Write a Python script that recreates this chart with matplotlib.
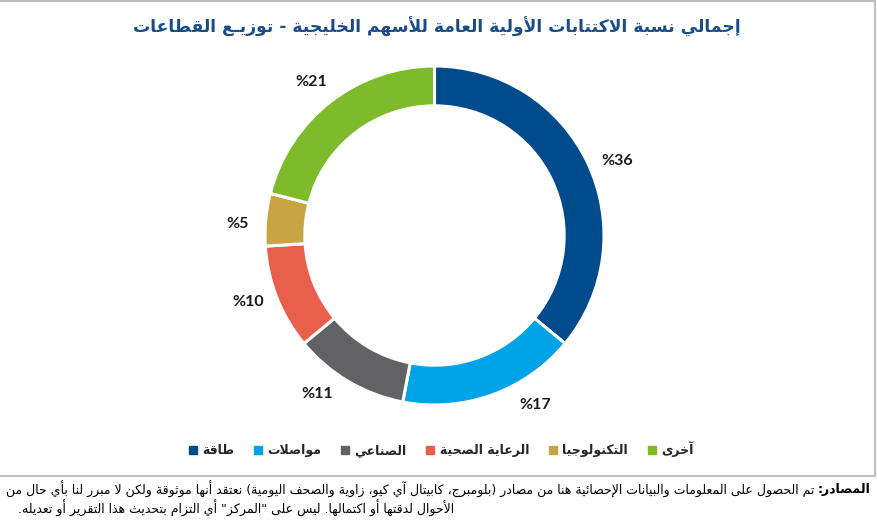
import matplotlib
matplotlib.use("Agg")
import matplotlib.pyplot as plt
from matplotlib.lines import Line2D
from matplotlib.patches import Rectangle
import numpy as np

# ---------------- data ----------------
title = "إجمالي نسبة الاكتتابات الأولية العامة للأسهم الخليجية - توزيـع القطاعات"
sectors = ["طاقة", "مواصلات", "الصناعي", "الرعاية الصحية", "التكنولوجيا", "آخرى"]
values = [36, 17, 11, 10, 5, 21]
colors = ["#004B8C", "#00A2E8", "#616166", "#E8604C", "#C9A443", "#7DBB2A"]
source_head = "المصادر:"
source_line1 = "تم الحصول على المعلومات والبيانات الإحصائية هنا من مصادر (بلومبرج، كابيتال آي كيو، زاوية والصحف اليومية) نعتقد أنها موثوقة ولكن لا مبرر لنا بأي حال من"
source_line2 = "الأحوال لدقتها أو اكتمالها. ليس على \"المركز\" أي التزام بتحديث هذا التقرير أو تعديله."

# label angle nudges (degrees) to mimic outside-end placement
label_nudge = [-3, 11, -6, -2, 2, 1]

# ---------------- minimal Arabic shaping (presentation forms) ----------------
_letters = [
    ('ء', 0xFE80, 'N'), ('آ', 0xFE81, 'R'), ('أ', 0xFE83, 'R'), ('ؤ', 0xFE85, 'R'),
    ('إ', 0xFE87, 'R'), ('ئ', 0xFE89, 'D'), ('ا', 0xFE8D, 'R'), ('ب', 0xFE8F, 'D'),
    ('ة', 0xFE93, 'R'), ('ت', 0xFE95, 'D'), ('ث', 0xFE99, 'D'), ('ج', 0xFE9D, 'D'),
    ('ح', 0xFEA1, 'D'), ('خ', 0xFEA5, 'D'), ('د', 0xFEA9, 'R'), ('ذ', 0xFEAB, 'R'),
    ('ر', 0xFEAD, 'R'), ('ز', 0xFEAF, 'R'), ('س', 0xFEB1, 'D'), ('ش', 0xFEB5, 'D'),
    ('ص', 0xFEB9, 'D'), ('ض', 0xFEBD, 'D'), ('ط', 0xFEC1, 'D'), ('ظ', 0xFEC5, 'D'),
    ('ع', 0xFEC9, 'D'), ('غ', 0xFECD, 'D'), ('ف', 0xFED1, 'D'), ('ق', 0xFED5, 'D'),
    ('ك', 0xFED9, 'D'), ('ل', 0xFEDD, 'D'), ('م', 0xFEE1, 'D'), ('ن', 0xFEE5, 'D'),
    ('ه', 0xFEE9, 'D'), ('و', 0xFEED, 'R'), ('ى', 0xFEEF, 'R'), ('ي', 0xFEF1, 'D'),
]
_forms = {}
_jtype = {}
for ch, base, t in _letters:
    _jtype[ch] = t
    if t == 'N':
        _forms[ch] = (base, base, base, base)
    elif t == 'R':
        _forms[ch] = (base, base + 1, base, base + 1)
    else:
        _forms[ch] = (base, base + 1, base + 2, base + 3)
_jtype['ـ'] = 'D'
_forms['ـ'] = (0x640,) * 4
_lamalef = {'آ': 0xFEF5, 'أ': 0xFEF7, 'إ': 0xFEF9, 'ا': 0xFEFB}
_mirror = {'(': ')', ')': '('}


def shape(s):
    toks = []
    i = 0
    while i < len(s):
        c = s[i]
        if c == 'ل' and i + 1 < len(s) and s[i + 1] in _lamalef:
            toks.append(('LA', s[i + 1], 'R'))
            i += 2
            continue
        toks.append((c, None, _jtype.get(c)))
        i += 1
    out = []
    for k, (c, extra, t) in enumerate(toks):
        if t is None:
            out.append(_mirror.get(c, c))
            continue
        prev_t = toks[k - 1][2] if k > 0 else None
        next_t = toks[k + 1][2] if k + 1 < len(toks) else None
        jp = prev_t == 'D' and t in ('D', 'R')
        jn = t == 'D' and next_t in ('D', 'R')
        if c == 'LA':
            code = _lamalef[extra] + (1 if jp else 0)
        else:
            f = _forms[c]
            if jp and jn:
                code = f[3]
            elif jp:
                code = f[1]
            elif jn:
                code = f[2]
            else:
                code = f[0]
        out.append(chr(code))
    return ''.join(reversed(out))


# ---------------- figure ----------------
W, H = 878, 523
fig = plt.figure(figsize=(W / 100, H / 100), dpi=100)
fig.patch.set_facecolor("white")

# frame
fig.patches.append(Rectangle((-5 / W, 1 - 476 / H), (875 + 5) / W, 476 / H - 1 / H,
                             transform=fig.transFigure, fill=False,
                             edgecolor="#BFBFBF", linewidth=1.5, zorder=0))

R_px = 169.5
cx, cy = 434.5, H - 235.5
lim = 1.3
side = 2 * lim * R_px
ax = fig.add_axes([(cx - side / 2) / W, (cy - side / 2) / H, side / W, side / H])

wedges, _ = ax.pie(values, colors=colors, startangle=90, counterclock=False,
                   wedgeprops=dict(width=0.235, edgecolor="white", linewidth=2.2))
ax.set_xlim(-lim, lim)
ax.set_ylim(-lim, lim)
ax.set_aspect("equal")
ax.axis("off")

for w, v, nud in zip(wedges, values, label_nudge):
    ang = np.deg2rad((w.theta1 + w.theta2) / 2 + nud)
    r = 1.165
    ax.text(r * np.cos(ang), r * np.sin(ang), "%" + str(v), ha="center", va="center",
            fontsize=11.5, fontweight="bold", family=["Lato", "DejaVu Sans"], color="#1a1a1a")

# title
fig.text(437 / W, 1 - 27 / H, shape(title), ha="center", va="center",
         fontsize=12.3, fontweight="bold", color="#1B4C86", family=["DejaVu Sans"])

# legend
handles = [Line2D([], [], marker="s", linestyle="none", markersize=6,
                  markerfacecolor=c, markeredgecolor=c) for c in colors]
fig.legend(handles, [shape(s) for s in sectors], loc="center",
           bbox_to_anchor=(441 / W, 1 - 449 / H), ncol=6, frameon=False,
           handlelength=0.7, handletextpad=0.4, columnspacing=1.55,
           prop=dict(family=["DejaVu Sans"], size=9, weight="bold"), labelcolor="#262626")

# footer
fig.canvas.draw()
rend = fig.canvas.get_renderer()
x_right = 871 / W
t_head = fig.text(x_right, 1 - 489 / H, shape(source_head), ha="right", va="center",
                  fontsize=9, fontweight="bold", family=["DejaVu Sans"], color="black")
bb = t_head.get_window_extent(renderer=rend)
fig.text((bb.x0 - 4) / W, 1 - 489 / H, shape(source_line1), ha="right", va="center",
         fontsize=9, family=["DejaVu Sans"], color="black")
fig.text(18 / W, 1 - 508 / H, shape(source_line2), ha="left", va="center",
         fontsize=9, family=["DejaVu Sans"], color="black")

fig.savefig("out.png", dpi=100)
